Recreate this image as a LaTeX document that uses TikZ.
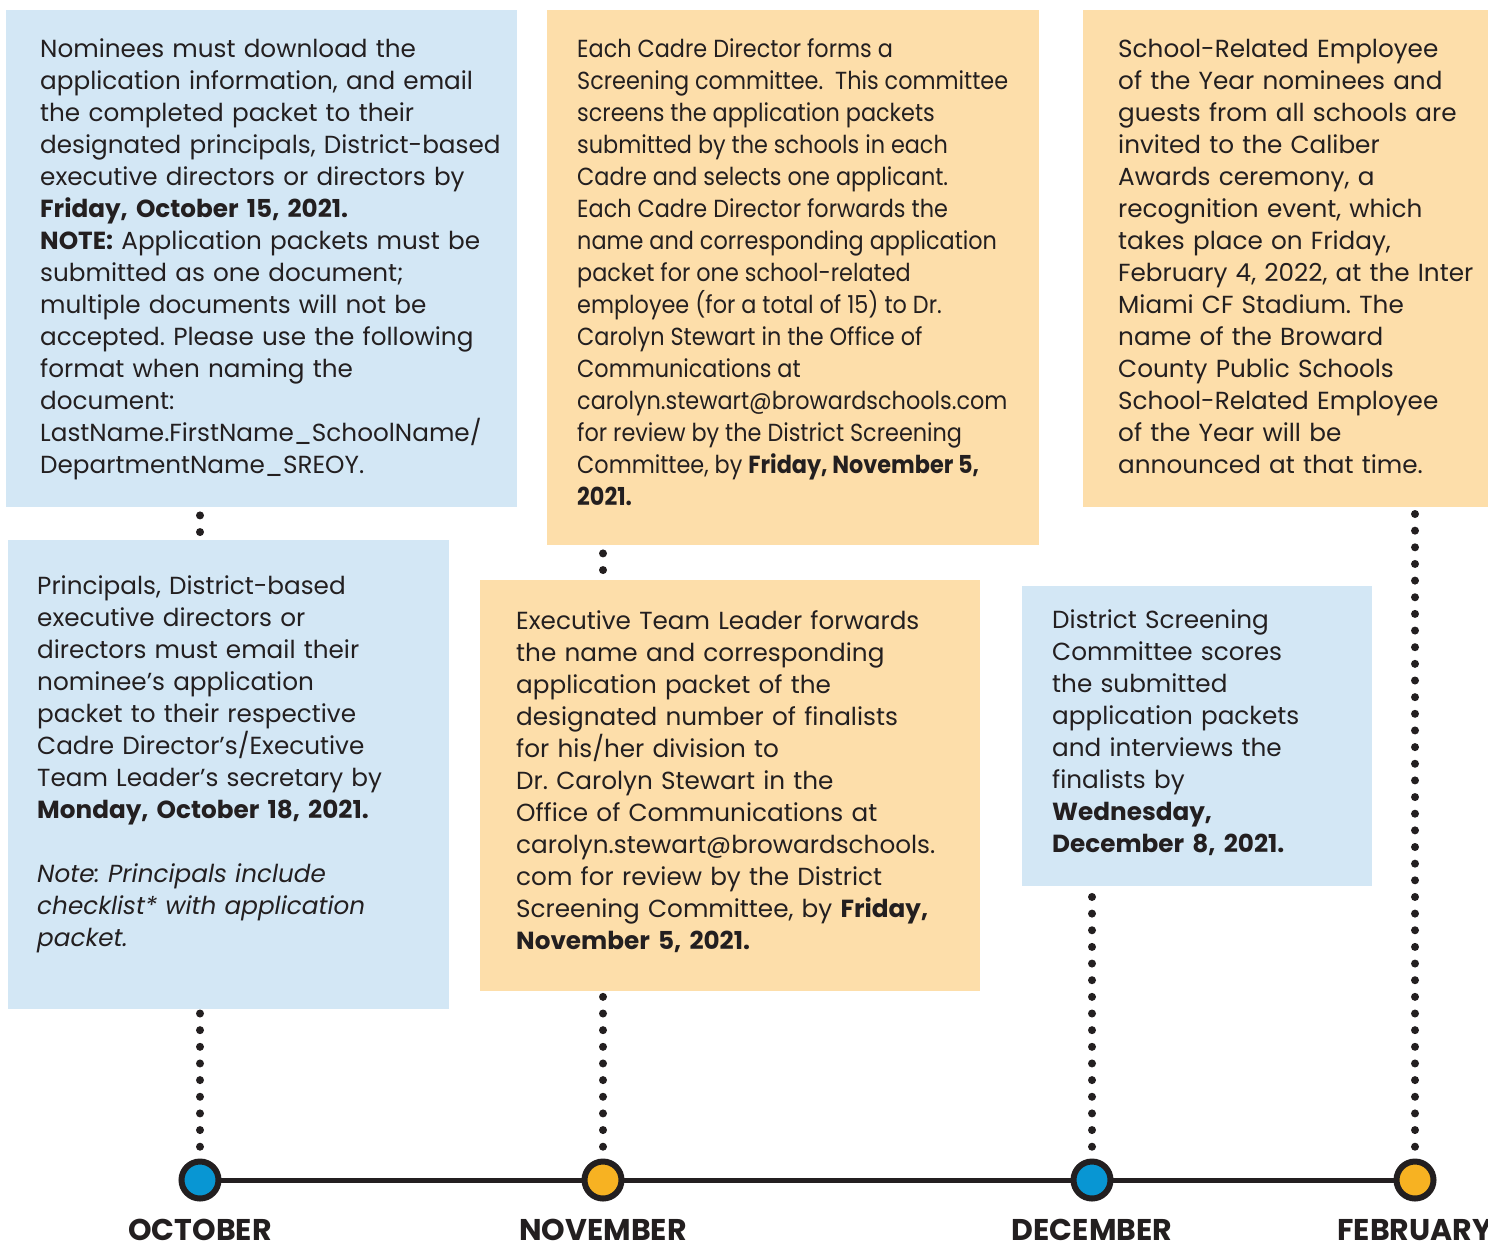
\documentclass[tikz,border=0pt]{standalone}
\usepackage{fontspec}
\setmainfont{Poppins}
\usetikzlibrary{backgrounds}
\definecolor{bluebox}{RGB}{211,231,245}
\definecolor{orangebox}{RGB}{253,222,170}
\definecolor{bluedot}{RGB}{8,150,211}
\definecolor{orangedot}{RGB}{247,178,34}
\definecolor{ink}{RGB}{35,31,32}
\frenchspacing
\tikzset{
  box/.style={draw=none, inner sep=0pt, anchor=north west},
  txt/.style={anchor=base west, inner sep=0pt, align=left, text width=500pt, text=ink, font=\frenchspacing\fontsize{24.7}{32}\selectfont},
  dotline/.style={draw=ink, line width=8pt, line cap=round, dash pattern=on 0pt off 16.65pt},
  mcircle/.style={circle, draw=ink, line width=6pt, minimum size=37pt, inner sep=0pt},
  month/.style={font=\bfseries\fontsize{30}{30}\selectfont, text=ink, anchor=base, inner sep=0pt}
}
\begin{document}
\begin{tikzpicture}[x=1pt,y=-1pt]
\useasboundingbox (0,0) rectangle (1488,1243);
% boxes
\node[box, fill=bluebox, minimum width=511pt, minimum height=497pt] (b1) at (6,10) {};
\node[box, fill=orangebox, minimum width=492pt, minimum height=535pt] (b2) at (547,10) {};
\node[box, fill=orangebox, minimum width=405pt, minimum height=497pt] (b3) at (1083,10) {};
\node[box, fill=bluebox, minimum width=441pt, minimum height=469pt] (b4) at (8,540) {};
\node[box, fill=orangebox, minimum width=500pt, minimum height=411pt] (b5) at (480,580) {};
\node[box, fill=bluebox, minimum width=350pt, minimum height=300pt] (b6) at (1022,586) {};
% texts
\node[txt] (t1) at (40,57) {Nominees must download the\\
application information, and email\\
the completed packet to their\\
designated principals, District-based\\
executive directors or directors by\\
\textbf{Friday, October 15, 2021.}\\
\textbf{NOTE:} Application packets must be\\
submitted as one document;\\
multiple documents will not be\\
accepted. Please use the following\\
format when naming the\\
document:\\
LastName.FirstName\_SchoolName/\\
DepartmentName\_SREOY.};
\node[anchor=base west, inner sep=0pt, text=ink] (t2) at (577,57) {\scalebox{0.905}[1]{\begin{minipage}[t]{520pt}\raggedright\frenchspacing\fontsize{24.7}{32}\selectfont
Each Cadre Director forms a\\
Screening committee.\ \ This committee\\
screens the application packets\\
submitted by the schools in each\\
Cadre and selects one applicant.\\
Each Cadre Director forwards the\\
name and corresponding application\\
packet for one school-related\\
employee (for a total of 15) to Dr.\\
Carolyn Stewart in the Office of\\
Communications at\\
carolyn.stewart@browardschools.com\\
for review by the District Screening\\
Committee, by \textbf{Friday, November 5,}\\
\textbf{2021.}\end{minipage}}};
\node[txt] (t3) at (1118,57) {School-Related Employee\\
of the Year nominees and\\
guests from all schools are\\
invited to the Caliber\\
Awards ceremony, a\\
recognition event, which\\
takes place on Friday,\\
February 4, 2022, at the Inter\\
Miami CF Stadium. The\\
name of the Broward\\
County Public Schools\\
School-Related Employee\\
of the Year will be\\
announced at that time.};
\node[txt] (t4) at (37,594) {Principals, District-based\\
executive directors or\\
directors must email their\\
nominee’s application\\
packet to their respective\\
Cadre Director’s/Executive\\
Team Leader’s secretary by\\
\textbf{Monday, October 18, 2021.}\\[32pt]
\textit{Note: Principals include}\\
\textit{checklist* with application}\\
\textit{packet.}};
\node[txt] (t5) at (516,629) {Executive Team Leader forwards\\
the name and corresponding\\
application packet of the\\
designated number of finalists\\
for his/her division to\\
Dr. Carolyn Stewart in the\\
Office of Communications at\\
carolyn.stewart@browardschools.\\
com for review by the District\\
Screening Committee, by \textbf{Friday,}\\
\textbf{November 5, 2021.}};
\node[txt] (t6) at (1052,628) {District Screening\\
Committee scores\\
the submitted\\
application packets\\
and interviews the\\
finalists by\\
\textbf{Wednesday,}\\
\textbf{December 8, 2021.}};
% timeline circles
\node[mcircle, fill=bluedot] (c1) at (200,1180) {};
\node[mcircle, fill=orangedot] (c2) at (603,1180) {};
\node[mcircle, fill=bluedot] (c3) at (1092,1180) {};
\node[mcircle, fill=orangedot] (c4) at (1415,1180) {};
\node[month] (m1) at (200,1240) {OCTOBER};
\node[month] (m2) at (603,1240) {NOVEMBER};
\node[month] (m3) at (1092,1240) {DECEMBER};
\node[month] (m4) at (1415,1240) {FEBRUARY};
\begin{scope}[on background layer]
\draw[ink, line width=5pt] (c1.center) -- (c4.center);
\draw[dotline] (c1.center) -- (b4.south -| c1.center);
\draw[dotline] (c2.center) -- (b5.south -| c2.center);
\draw[dotline] (c3.center) -- (b6.south -| c3.center);
\draw[dotline] (c4.center) -- (b3.south -| c4.center);
\draw[dotline, shorten <=8pt, shorten >=7pt] (b1.south -| c1.center) -- (b4.north -| c1.center);
\draw[dotline, shorten <=8pt, shorten >=7pt] (b2.south -| c2.center) -- (b5.north -| c2.center);
\end{scope}
\end{tikzpicture}
\end{document}
